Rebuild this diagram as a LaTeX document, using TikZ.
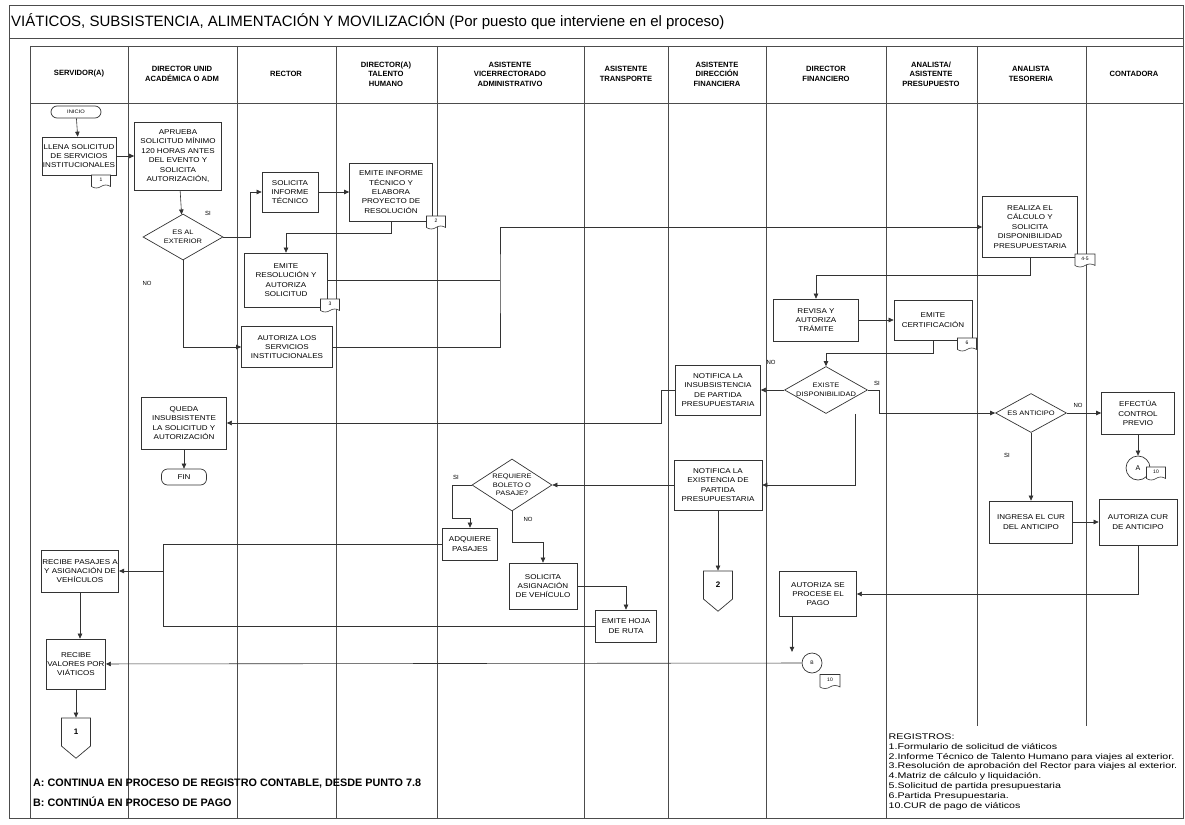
\documentclass[tikz,border=0pt]{standalone}
\usepackage{fontspec}
\setmainfont{Liberation Sans}
\newfontfamily\boxfont{Liberation Sans}[FakeStretch=1.15]
\newfontfamily\regfont{Liberation Sans}[FakeStretch=1.3]
\usetikzlibrary{arrows.meta,shapes.geometric,shapes.symbols}

\tikzset{
  ink/.style={draw=black!80},
  proc/.style={ink, line width=0.7pt, rectangle, align=center, inner sep=1pt,
    font=\boxfont\fontsize{7}{9.4}\selectfont},
  term/.style={proc, rounded corners=6pt},
  decide/.style={ink, line width=0.7pt, diamond, inner sep=0pt},
  dtext/.style={align=center, inner sep=0pt, font=\boxfont\fontsize{6.5}{8.5}\selectfont},
  doc/.style={ink, line width=0.6pt, tape, tape bend top=none, tape bend height=3pt,
    fill=white, inner sep=0pt, minimum width=19pt, minimum height=13pt,
    font=\fontsize{5}{6}\selectfont},
  conn/.style={ink, line width=0.7pt, circle, fill=white, inner sep=0pt},
  offpage/.style={ink, line width=0.7pt, signal, signal to=south, signal pointer angle=100,
    inner sep=0pt, minimum width=29pt, minimum height=30pt, font=\fontsize{8}{9}\selectfont\bfseries},
  arr/.style={draw=black!80, line width=0.6pt, -{Triangle[length=5pt,width=4.5pt]}},
  wire/.style={draw=black!80, line width=0.6pt},
  lane/.style={draw=black!70, line width=0.6pt},
  hdr/.style={align=center, font=\fontsize{7.6}{9.4}\selectfont\bfseries},
  yn/.style={inner sep=0pt, font=\fontsize{6}{7}\selectfont},
  note/.style={anchor=west, inner sep=0pt, font=\fontsize{10.8}{12}\selectfont\bfseries},
}

\begin{document}
\begin{tikzpicture}[x=1pt,y=-1pt]
\useasboundingbox (0,0) rectangle (1185,824);

% frame and lanes
\draw[lane] (9,5) rectangle (1183,818);
\draw[lane] (9,38) -- (1183,38);
\draw[lane] (30,46) -- (1183,46);
\draw[lane] (30,103) -- (1183,103);
\foreach \lx in {30,128,237,336,437,584,668,766,886,977,1086}
  \draw[lane] (\lx,46) -- (\lx,818);

\node[anchor=west, inner sep=0pt, font=\fontsize{15}{18}\selectfont] (title) at (11,22)
  {VIÁTICOS, SUBSISTENCIA, ALIMENTACIÓN Y MOVILIZACIÓN (Por puesto que interviene en el proceso)};

\foreach \cx/\hd [count=\i] in {79/{SERVIDOR(A)}, 182/{DIRECTOR UNID\\ACADÉMICA O ADM},
    286/{RECTOR}, 386/{DIRECTOR(A)\\TALENTO\\HUMANO}, 510/{ASISTENTE\\VICERRECTORADO\\ADMINISTRATIVO},
    626/{ASISTENTE\\TRANSPORTE}, 717/{ASISTENTE\\DIRECCIÓN\\FINANCIERA}, 826/{DIRECTOR\\FINANCIERO},
    931/{ANALISTA/\\ASISTENTE\\PRESUPUESTO}, 1031/{ANALISTA\\TESORERIA}, 1134/{CONTADORA}}
  \node[hdr] (hd\i) at (\cx,74) {\hd};

% servidor / director unidad / rector / talento humano
\node[term, minimum width=50pt, minimum height=12pt, font=\boxfont\fontsize{5}{6}\selectfont] (inicio) at (76,112) {INICIO};
\node[proc, minimum width=72pt, minimum height=38pt] (llena) at (79,156) {LLENA SOLICITUD\\DE SERVICIOS\\INSTITUCIONALES};
\node[doc] (tag1) at (101,180) {1};
\node[proc, minimum width=87pt, minimum height=68pt] (aprueba) at (178,156) {APRUEBA\\SOLICITUD MÍNIMO\\120 HORAS ANTES\\DEL EVENTO Y\\SOLICITA\\AUTORIZACIÓN,};
\node[decide, minimum width=80pt, minimum height=46pt, label={[dtext]center:ES AL\\EXTERIOR}] (esext) at (183,237) {};
\node[proc, minimum width=56pt, minimum height=40pt] (solinf) at (290,192) {SOLICITA\\INFORME\\TÉCNICO};
\node[proc, minimum width=83pt, minimum height=58pt] (eminf) at (391,192) {EMITE INFORME\\TÉCNICO Y\\ELABORA\\PROYECTO DE\\RESOLUCIÓN};
\node[doc] (tag2) at (436,221) {2};
\node[proc, minimum width=83pt, minimum height=54pt] (emres) at (286,280) {EMITE\\RESOLUCIÓN Y\\AUTORIZA\\SOLICITUD};
\node[doc] (tag3) at (330,304) {3};
\node[proc, minimum width=91pt, minimum height=41pt] (autser) at (287,347) {AUTORIZA LOS\\SERVICIOS\\INSTITUCIONALES};
\node[proc, minimum width=85pt, minimum height=52pt] (queda) at (184,423) {QUEDA\\INSUBSISTENTE\\LA SOLICITUD Y\\AUTORIZACIÓN};
\node[term, minimum width=45pt, minimum height=16pt] (fin) at (184,477) {FIN};

% financiero / presupuesto / tesoreria
\node[proc, minimum width=95pt, minimum height=61pt] (realiza) at (1030,227) {REALIZA EL\\CÁLCULO Y\\SOLICITA\\DISPONIBILIDAD\\PRESUPUESTARIA};
\node[doc, minimum width=20pt] (tag45) at (1085,259) {4-5};
\node[proc, minimum width=85pt, minimum height=42pt] (revisa) at (816,320) {REVISA Y\\AUTORIZA\\TRÁMITE};
\node[proc, minimum width=78pt, minimum height=40pt] (emcert) at (933,320) {EMITE\\CERTIFICACIÓN};
\node[doc] (tag6) at (967,343) {6};
\node[decide, minimum width=83pt, minimum height=47pt, label={[dtext]center:EXISTE\\DISPONIBILIDAD}] (disp) at (826,390) {};
\node[proc, minimum width=85pt, minimum height=50pt] (notin) at (718,390) {NOTIFICA LA\\INSUBSISTENCIA\\DE PARTIDA\\PRESUPUESTARIA};
\node[decide, minimum width=71pt, minimum height=39pt, label={[dtext]center:ES ANTICIPO}] (esant) at (1031,413) {};
\node[proc, minimum width=73pt, minimum height=42pt] (efect) at (1138,413) {EFECTÚA\\CONTROL\\PREVIO};
\node[conn, minimum size=24pt, font=\fontsize{7}{8}\selectfont] (conA) at (1138,468) {A};
\node[doc] (tagA) at (1156,472) {10};
\node[proc, minimum width=83pt, minimum height=42pt] (ingresa) at (1031,522) {INGRESA EL CUR\\DEL ANTICIPO};
\node[proc, minimum width=78pt, minimum height=46pt] (autcur) at (1138,522) {AUTORIZA CUR\\DE ANTICIPO};
\node[proc, minimum width=77pt, minimum height=45pt] (autpago) at (818,594) {AUTORIZA SE\\PROCESE EL\\PAGO};
\node[conn, minimum size=20pt, font=\fontsize{5}{6}\selectfont] (conB) at (812,663) {B};
\node[doc, minimum width=20pt, minimum height=14pt] (tagB) at (830,680) {10};

% transporte / vicerrectorado
\node[proc, minimum width=88pt, minimum height=50pt] (notex) at (718,485) {NOTIFICA LA\\EXISTENCIA DE\\PARTIDA\\PRESUPUESTARIA};
\node[offpage] (two) at (718,585) {2};
\node[decide, minimum width=80pt, minimum height=52pt, label={[dtext]center:REQUIERE\\BOLETO O\\PASAJE?}] (req) at (512,485) {};
\node[proc, minimum width=55pt, minimum height=32pt] (adq) at (470,544) {ADQUIERE\\PASAJES};
\node[proc, minimum width=68pt, minimum height=46pt] (solasig) at (543,586) {SOLICITA\\ASIGNACIÓN\\DE VEHÍCULO};
\node[proc, minimum width=61pt, minimum height=32pt] (emhoja) at (626,626) {EMITE HOJA\\DE RUTA};
\node[proc, minimum width=75pt, minimum height=42pt] (recpas) at (80,571) {RECIBE PASAJES A\\Y ASIGNACIÓN DE\\VEHÍCULOS};
\node[proc, minimum width=56pt, minimum height=50pt] (recval) at (76,664) {RECIBE\\VALORES POR\\VIÁTICOS};
\node[offpage] (one) at (76,732) {1};

% SI / NO
\node[yn] (si1) at (208,213) {SI};
\node[yn] (no1) at (147,283) {NO};
\node[yn] (no2) at (771,362) {NO};
\node[yn] (si2) at (877,383) {SI};
\node[yn] (no3) at (1078,405) {NO};
\node[yn] (si3) at (1007,455) {SI};
\node[yn] (si4) at (456,477) {SI};
\node[yn] (no4) at (528,519) {NO};

% connectors
\draw[arr] (inicio) -- (llena);
\draw[arr] (llena) -- (aprueba);
\draw[arr] (aprueba) -- (esext);
\draw[arr] (esext.east) -- ++(27,0) |- (solinf.west);
\draw[arr] (solinf) -- (eminf);
\draw[arr] (eminf.south) -- ++(0,12) -| (emres.north);
\draw[arr] (esext.south) |- (autser.west);
\coordinate (jn) at (500,280);
\draw[wire] (emres.east) -- (jn);
\draw[arr] (autser.east) -| (jn) |- (realiza.west);
\draw[arr] (realiza.south) -- ++(0,17) -| (revisa.north);
\draw[arr] (revisa) -- (emcert);
\draw[arr] (emcert.south) -- ++(0,13) -| (disp.north);
\draw[arr] (disp) -- (notin);
\draw[arr] (notin.west) -- ++(-14,0) |- (queda.east);
\draw[arr] (queda) -- (fin);
\draw[arr] (disp.east) -- ++(11,0) |- (esant.west);
\draw[arr] (esant) -- (efect);
\draw[arr] (efect) -- (conA);
\draw[arr] (esant) -- (ingresa);
\draw[arr] (ingresa) -- (autcur);
\draw[arr] (autcur.south) |- (autpago.east);
\draw[arr] ([xshift=-26pt]autpago.south) -- ++(0,35);
\draw[arr] (conB) -- (recval);
\draw[arr] ([xshift=29pt]disp.south) |- (notex.east);
\draw[arr] (notex) -- (req);
\draw[arr] (notex) -- (two);
\draw[arr] (req.west) -- ++(-19,0) -- ++(0,33) -| (adq.north);
\draw[arr] (req.south) -- ++(0,31) -| (solasig.north);
\draw[arr] (solasig.east) -| (emhoja.north);
\coordinate (jp) at (163,571);
\draw[wire] (adq.west) -| (jp);
\draw[wire] (emhoja.west) -| (jp);
\draw[arr] (jp) -- (recpas.east);
\draw[arr] (recpas.south) -- (recpas.south |- recval.north);
\draw[arr] (recval.south -| one.north) -- (one.north);

% notes
\node[note] (notaA) at (33,784) {A: CONTINUA EN PROCESO DE REGISTRO CONTABLE, DESDE PUNTO 7.8};
\node[note] (notaB) at (33,802) {B: CONTINÚA EN PROCESO DE PAGO};
\node[anchor=north west, fill=white, minimum width=296pt, minimum height=92pt, text width=292pt,
  inner xsep=2pt, inner ysep=3pt, align=left, font=\regfont\fontsize{8.2}{9.8}\selectfont] (regs) at (886.5,725.5)
  {REGISTROS:\\
   1.Formulario de solicitud de viáticos\\
   2.Informe Técnico de Talento Humano para viajes al exterior.\\
   3.Resolución de aprobación del Rector para viajes al exterior.\\
   4.Matriz de cálculo y liquidación.\\
   5.Solicitud de partida presupuestaria\\
   6.Partida Presupuestaria.\\
   10.CUR de pago de viáticos};
\draw[lane] (886,818) -- (1183,818);

\end{tikzpicture}
\end{document}
